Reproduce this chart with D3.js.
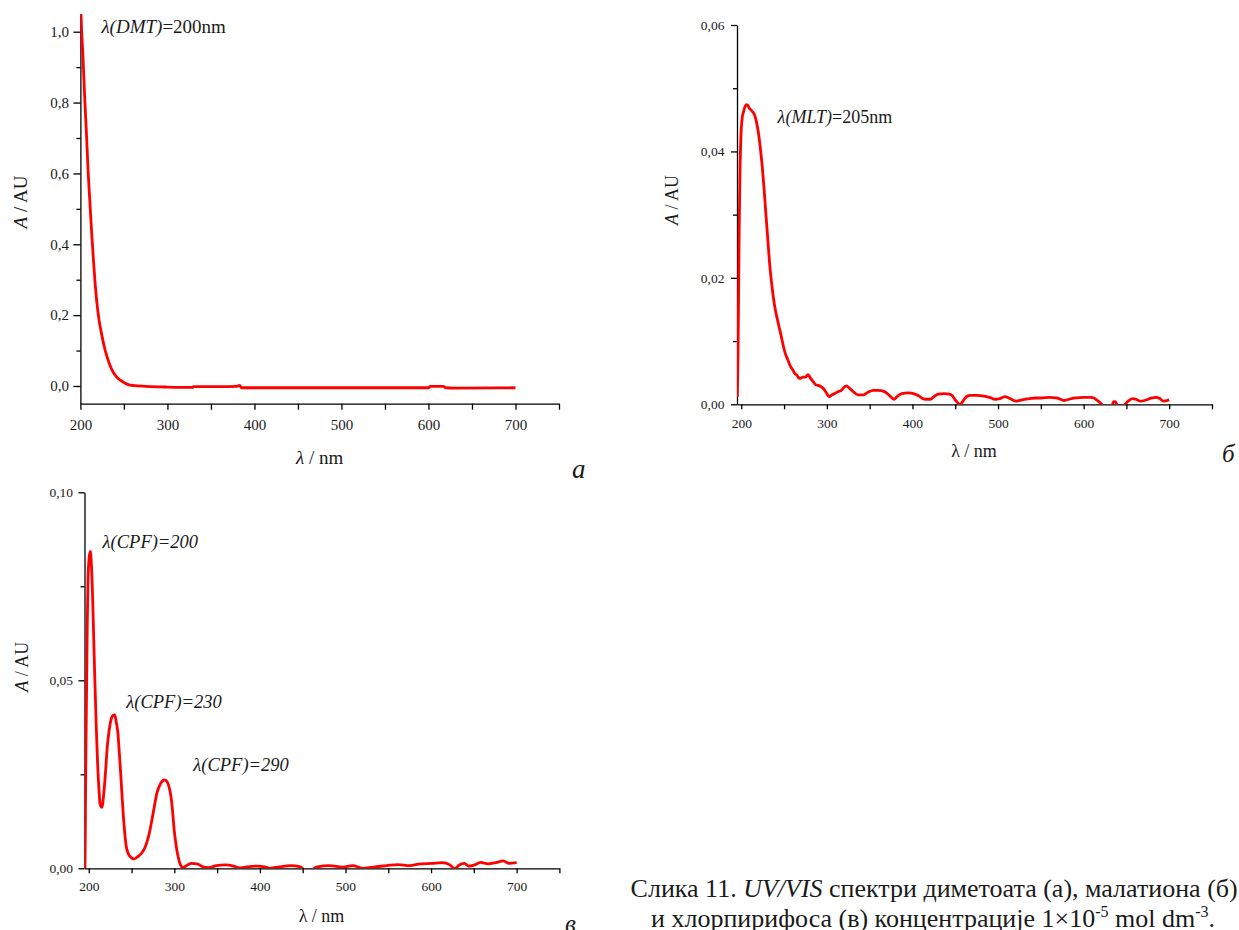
<!DOCTYPE html>
<head>
<meta charset="utf-8">
<title>UV/VIS спектри</title>
<script src="https://d3js.org/d3.v7.min.js"></script>
<style>
  body { margin: 0; background: #fff; }
  svg, svg text { font-family: "Liberation Serif", "Times New Roman", serif; }
  svg text { fill: #1a1a1a; }
</style>
</head>
<body>
<div id="container"></div>
<script>
//---------------------------DATA---------------------------//
// (a) dimethoate
const dmtWl  = [200, 200.7, 203, 205, 207, 209, 211, 213, 215, 217, 220.6, 224.5, 228, 232, 236, 241, 245.5, 250, 255, 262, 275, 300, 329, 330, 360, 380, 383, 385, 450, 600, 602, 617, 620, 630, 700];
const dmtAbs = [1.12, 1.05, 0.928, 0.81, 0.71, 0.60, 0.515, 0.43, 0.356, 0.287, 0.20, 0.145, 0.105, 0.072, 0.047, 0.027, 0.017, 0.010, 0.004, 0.001, -0.001, -0.003, -0.004, -0.002, -0.002, -0.001, 0.002, -0.005, -0.005, -0.005, -0.001, -0.001, -0.005, -0.006, -0.005];

// (б) malathion
const mltWl  = [195.4, 196.2, 196.8, 197.6, 198.6, 199.6, 200.8, 202.5, 204.4, 206, 207.6, 209.5, 211.1, 213, 215.5, 217.5, 220.1, 222.3, 224.5, 226.8, 229, 231.2, 233.4, 235.6, 237.9, 240, 242.4, 244.6, 246.8, 249, 251.3, 254.5, 257.9, 260, 262.4, 265, 267, 269.1, 272, 275, 278, 281, 284, 286.9, 290, 293, 295.9, 299, 302.6, 306, 309.3, 313, 317, 320, 322.7, 326, 330, 336.1, 342.8, 348, 354, 360, 367.4, 373, 378.5, 382, 387.5, 395, 403, 408, 412, 416, 421, 425, 430, 437, 443.2, 447, 449.9, 452.5, 455.3, 458, 461.1, 464, 467.8, 475, 483.4, 490, 496.8, 502, 508, 514, 521.4, 528, 537, 544, 550.4, 560, 568.2, 573, 577.2, 583, 590.5, 600, 608.4, 612, 615.1, 619, 621.8, 626, 630, 633, 635.1, 637, 639.5, 642, 645, 648.5, 652, 657.5, 661, 666.4, 671, 675.3, 680, 684.3, 689, 693.2, 700];
const mltAbs = [0.0012, 0.008, 0.0165, 0.028, 0.0376, 0.0425, 0.045, 0.0462, 0.0471, 0.0474, 0.0473, 0.0468, 0.0466, 0.0463, 0.0458, 0.0448, 0.0429, 0.0405, 0.0376, 0.0338, 0.0297, 0.0257, 0.0218, 0.019, 0.0165, 0.0148, 0.0133, 0.012, 0.0107, 0.0093, 0.0081, 0.007, 0.0059, 0.0055, 0.0049, 0.0046, 0.0042, 0.0041, 0.0043, 0.0043, 0.0047, 0.0041, 0.0036, 0.0031, 0.003, 0.0028, 0.0025, 0.0019, 0.0012, 0.0015, 0.0017, 0.002, 0.0022, 0.0027, 0.0029, 0.0026, 0.0021, 0.0015, 0.0015, 0.0019, 0.0022, 0.0022, 0.002, 0.0014, 0.0008, 0.0012, 0.0017, 0.0018, 0.0016, 0.0013, 0.0009, 0.0008, 0.0008, 0.0012, 0.0016, 0.0017, 0.0016, 0.0013, 0.0007, 0.0003, -0.0001, 0.0003, 0.0009, 0.0013, 0.0014, 0.0014, 0.0013, 0.0011, 0.0008, 0.0009, 0.0012, 0.0009, 0.0005, 0.0007, 0.0009, 0.001, 0.001, 0.0011, 0.001, 0.0008, 0.0006, 0.0008, 0.001, 0.0011, 0.0011, 0.001, 0.0007, 0.0003, -0.0001, -0.0006, -0.0008, -0.0003, 0.0004, 0.0004, -0.0002, -0.0005, -0.0004, 0.0, 0.0005, 0.0009, 0.0008, 0.0005, 0.0006, 0.0008, 0.001, 0.0011, 0.0009, 0.0005, 0.0007];

// (в) chlorpyrifos
const cpfWl  = [195, 195.6, 196.4, 197.3, 198.2, 199.1, 200.4, 201.8, 203, 204.5, 205.8, 207.1, 208.7, 210.3, 211.9, 213.4, 215.2, 217.9, 219.7, 221.5, 224, 226, 228.5, 230.4, 232, 234, 235.6, 237.1, 238.7, 240.2, 242, 243.8, 246, 248.3, 252.8, 257.3, 261.7, 266.2, 270.7, 275.2, 279.6, 284.1, 288.6, 291, 293.1, 295, 296.6, 298.2, 299.8, 301.4, 302.9, 304.7, 306.5, 310, 315.4, 319.9, 326.6, 333.3, 340, 349, 360, 369, 375.8, 384.8, 396, 407, 411.6, 422.8, 436, 447.4, 450.6, 456, 462, 465, 467.6, 481, 497, 508, 521.5, 534.7, 548, 561.5, 575, 588, 601, 613, 622, 627.7, 633, 639, 644, 651, 657.9, 666.8, 675.6, 684.6, 691, 700];
const cpfAbs = [-0.003, 0.0, 0.025, 0.045, 0.064, 0.077, 0.0825, 0.0843, 0.081, 0.072, 0.061, 0.05, 0.038, 0.028, 0.021, 0.0168, 0.0162, 0.0208, 0.026, 0.032, 0.037, 0.0395, 0.0407, 0.0408, 0.039, 0.036, 0.031, 0.026, 0.02, 0.0146, 0.0095, 0.0058, 0.004, 0.0031, 0.0025, 0.0031, 0.004, 0.0058, 0.0093, 0.0146, 0.02, 0.0226, 0.0235, 0.0232, 0.0222, 0.0205, 0.0182, 0.0145, 0.0102, 0.0072, 0.0049, 0.0028, 0.0013, 0.0002, 0.0009, 0.0013, 0.0012, 0.0004, 0.0002, 0.0007, 0.0009, 0.0006, 0.0001, 0.0004, 0.0006, 0.0003, 0.0, 0.0004, 0.0007, 0.0004, -0.0002, -0.0004, -0.0002, 0.0002, 0.0004, 0.0007, 0.0003, 0.0007, 0.0, 0.0004, 0.0007, 0.001, 0.0007, 0.0012, 0.0013, 0.0015, 0.0009, -0.0001, 0.0009, 0.0013, 0.0006, 0.0009, 0.0016, 0.0012, 0.0015, 0.002, 0.0013, 0.0015];

// ticks
const xMajor = [200, 300, 400, 500, 600, 700];
const xMinor = [250, 350, 450, 550, 650, 750];
const dmtMajor = [0, 0.2, 0.4, 0.6, 0.8, 1.0];
const dmtMinor = [0.1, 0.3, 0.5, 0.7, 0.9];
const mltMajor = [0, 0.02, 0.04, 0.06];
const mltMinor = [0.01, 0.03, 0.05];
const cpfMajor = [0, 0.05, 0.10];
const cpfMinor = [0.025, 0.075];

//---------------------------SVG----------------------------//
const svg = d3.select("#container").append("svg")
  .attr("width", 1239)
  .attr("height", 930)
  .style("display", "block");

svg.append("rect").attr("width", 1239).attr("height", 930).attr("fill", "#fff");

function drawPanel(p) {
  const g = svg.append("g");
  const x = d3.scaleLinear().domain(p.xDomain).range(p.xRange);
  const y = d3.scaleLinear().domain(p.yDomain).range(p.yRange);
  const fmt = v => d3.format(p.yFmt)(v).replace(".", ",");

  // x axis
  g.append("g")
    .attr("transform", "translate(0," + p.yRange[0] + ")")
    .call(d3.axisBottom(x).tickValues(xMajor).tickSize(p.xTick).tickSizeOuter(0)
      .tickPadding(p.xPad).tickFormat(d3.format("d")));
  g.append("g")
    .attr("transform", "translate(0," + p.yRange[0] + ")")
    .call(d3.axisBottom(x).tickValues(xMinor).tickSize(p.xMinorTick).tickFormat(""))
    .call(a => a.select(".domain").remove());

  // y axis
  g.append("g")
    .attr("transform", "translate(" + p.xRange[0] + ",0)")
    .call(d3.axisLeft(y).tickValues(p.yMajor).tickSize(p.yTick).tickSizeOuter(0)
      .tickPadding(p.yPad).tickFormat(fmt));
  g.append("g")
    .attr("transform", "translate(" + p.xRange[0] + ",0)")
    .call(d3.axisLeft(y).tickValues(p.yMinor).tickSize(4).tickFormat(""))
    .call(a => a.select(".domain").remove());

  g.selectAll("g").attr("font-family", null).attr("font-size", p.fs);
  g.selectAll(".tick text").attr("fill", "#1a1a1a");
  g.selectAll(".domain, .tick line").attr("stroke", "#000").attr("stroke-width", 1.3);

  // clip + spectrum
  svg.append("clipPath").attr("id", "clip-" + p.id).append("rect")
    .attr("x", p.xRange[0]).attr("y", p.yRange[1])
    .attr("width", p.xRange[1] - p.xRange[0])
    .attr("height", p.yRange[0] - p.yRange[1]);

  const pts = p.wl.map((w, i) => ({ w: w, a: p.abs[i] }));
  const line = d3.line()
    .x(d => x(d.w))
    .y(d => y(d.a))
    .curve(d3.curveMonotoneX);

  g.append("path")
    .datum(pts)
    .attr("clip-path", "url(#clip-" + p.id + ")")
    .attr("fill", "none")
    .attr("stroke", "#ff0000")
    .attr("stroke-width", 2.8)
    .attr("stroke-linejoin", "round")
    .attr("d", line);

  // x label
  const xl = g.append("text")
    .attr("x", p.xLab[0]).attr("y", p.xLab[1])
    .attr("text-anchor", "middle")
    .attr("font-size", p.labFs);
  xl.append("tspan").attr("font-style", p.italicLambda ? "italic" : "normal").text("λ");
  xl.append("tspan").text(" / nm");

  // y label
  const yl = g.append("text")
    .attr("transform", "translate(" + p.yLab[0] + "," + p.yLab[1] + ") rotate(-90)")
    .attr("text-anchor", "middle")
    .attr("font-size", p.labFs);
  yl.append("tspan").attr("font-style", "italic").text("A");
  yl.append("tspan").text(" / AU");

  // annotations
  p.notes.forEach(n => {
    const t = g.append("text")
      .attr("x", n.x).attr("y", n.y)
      .attr("font-size", n.fs);
    t.append("tspan").attr("font-style", "italic").text(n.it);
    if (n.rest) t.append("tspan").text(n.rest);
  });

  // panel letter
  g.append("text")
    .attr("x", p.letter[0]).attr("y", p.letter[1])
    .attr("font-size", p.letter[2])
    .attr("font-style", "italic")
    .text(p.letter[3]);
}

drawPanel({
  id: "a", wl: dmtWl, abs: dmtAbs,
  xDomain: [200, 750], xRange: [80.4, 559],
  yDomain: [-0.05, 1.05], yRange: [403.7, 14],
  yMajor: dmtMajor, yMinor: dmtMinor, yFmt: ".1f",
  fs: 15, xTick: 6, xMinorTick: 6, xPad: 9.5, yTick: 7, yPad: 4.5,
  labFs: 19, italicLambda: true,
  xLab: [319.6, 464], yLab: [26.5, 202],
  notes: [{ x: 101.4, y: 32.5, fs: 19, it: "λ(DMT)", rest: "=200nm" }],
  letter: [572, 478, 27, "a"]
});

drawPanel({
  id: "b", wl: mltWl, abs: mltAbs,
  xDomain: [195, 750], xRange: [737, 1212],
  yDomain: [0, 0.06], yRange: [404.3, 25],
  yMajor: mltMajor, yMinor: mltMinor, yFmt: ".2f",
  fs: 13.5, xTick: 5, xMinorTick: 5, xPad: 9.6, yTick: 6, yPad: 6.6,
  labFs: 18, italicLambda: false,
  xLab: [974, 457], yLab: [678, 200],
  notes: [{ x: 777.6, y: 122.5, fs: 18, it: "λ(MLT)", rest: "=205nm" }],
  letter: [1222, 461.5, 25, "б"]
});

drawPanel({
  id: "c", wl: cpfWl, abs: cpfAbs,
  xDomain: [195, 750], xRange: [84.5, 559.4],
  yDomain: [0, 0.10], yRange: [868.3, 492.3],
  yMajor: cpfMajor, yMinor: cpfMinor, yFmt: ".2f",
  fs: 13.5, xTick: 5, xMinorTick: 5, xPad: 8.6, yTick: 6, yPad: 5.5,
  labFs: 18, italicLambda: false,
  xLab: [321.5, 921.5], yLab: [27.5, 666.7],
  notes: [
    { x: 102.6, y: 547.5, fs: 18.5, it: "λ(CPF)=200" },
    { x: 126.3, y: 707.5, fs: 18.5, it: "λ(CPF)=230" },
    { x: 193.3, y: 771, fs: 18.5, it: "λ(CPF)=290" }
  ],
  letter: [565, 932, 25, "в"]
});

//-------------------------CAPTION--------------------------//
const cap1 = svg.append("text").attr("x", 630.6).attr("y", 896.7).attr("font-size", 26);
cap1.append("tspan").text("Слика 11. ");
cap1.append("tspan").attr("font-style", "italic").text("UV/VIS");
cap1.append("tspan").text(" спектри диметоата (а), малатиона (б)");

const cap2 = svg.append("text").attr("x", 651).attr("y", 926.7).attr("font-size", 26);
cap2.append("tspan").text("и хлорпирифоса (в) концентрације 1×10");
cap2.append("tspan").attr("font-size", 16).attr("dy", -10).text("-5");
cap2.append("tspan").attr("dy", 10).text(" mol dm");
cap2.append("tspan").attr("font-size", 16).attr("dy", -10).text("-3");
cap2.append("tspan").attr("dy", 10).text(".");
</script>
</body>
